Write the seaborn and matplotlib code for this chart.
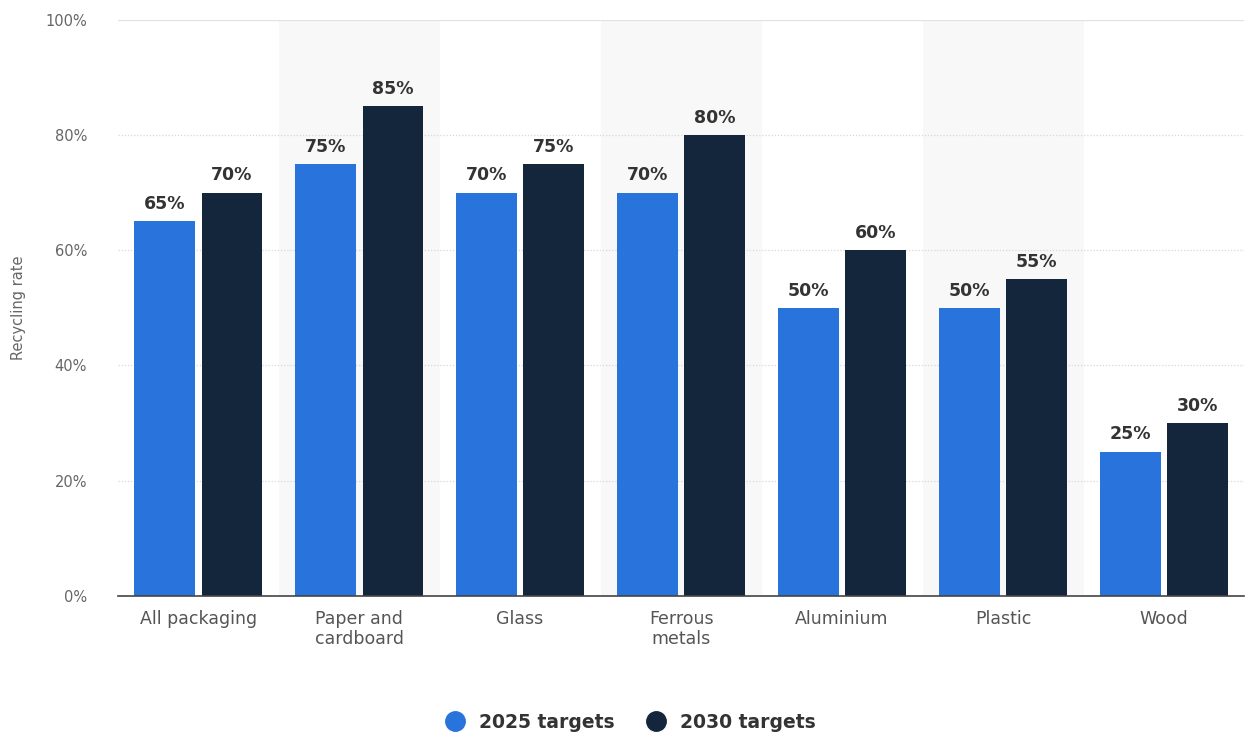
# Import libraries
import matplotlib
matplotlib.use("Agg")
import matplotlib.pyplot as plt
import seaborn as sns
import pandas as pd
from matplotlib.lines import Line2D

# Data
categories = ["All packaging", "Paper and\ncardboard", "Glass", "Ferrous\nmetals",
              "Aluminium", "Plastic", "Wood"]
targets_2025 = [65, 75, 70, 70, 50, 50, 25]
targets_2030 = [70, 85, 75, 80, 60, 55, 30]
series_names = ["2025 targets", "2030 targets"]
colors = ["#2874dc", "#13263c"]

df = pd.DataFrame({
    "category": categories * 2,
    "value": targets_2025 + targets_2030,
    "series": [series_names[0]] * len(categories) + [series_names[1]] * len(categories),
})

sns.set_style("white")
plt.rcParams["font.family"] = ["DejaVu Sans"]

fig = plt.figure(figsize=(12.52, 7.4), dpi=100)
ax = fig.add_axes([0.094, 0.195, 0.9, 0.778])

# Alternating shaded bands
for i in range(1, len(categories), 2):
    ax.axvspan(i - 0.5, i + 0.5, color="#f8f8f8", zorder=0, lw=0)

sns.barplot(data=df, x="category", y="value", hue="series", palette=colors,
            width=0.84, gap=0.1, saturation=1, ax=ax, zorder=2, legend=False,
            linewidth=0)

for container in ax.containers:
    ax.bar_label(container, fmt="%g%%", padding=6, fontsize=12.5,
                 color="#333333", fontweight="semibold")

ax.set_xlim(-0.5, len(categories) - 0.5)
ax.set_ylim(0, 100)
ax.set_yticks([0, 20, 40, 60, 80, 100])
ax.set_yticklabels([f"{v}%" for v in [0, 20, 40, 60, 80, 100]])
ax.tick_params(axis="y", labelsize=10.5, labelcolor="#666666", length=0, pad=22)
ax.tick_params(axis="x", labelsize=12.5, labelcolor="#555555", length=0, pad=10)
ax.set_xlabel("")
ax.set_ylabel("Recycling rate", fontsize=10.5, color="#666666")
ax.yaxis.set_label_coords(-0.081, 0.5)

# Grid lines
for v in [20, 40, 60, 80]:
    ax.axhline(v, color="#d8d8d8", lw=0.9, ls=(0, (1, 1.5)), zorder=1)
ax.axhline(100, color="#e2e2e2", lw=0.9, zorder=1)

for s in ["top", "right", "left"]:
    ax.spines[s].set_visible(False)
ax.spines["bottom"].set_color("#444444")
ax.spines["bottom"].set_linewidth(1.2)
ax.spines["bottom"].set_zorder(3)

handles = [Line2D([0], [0], marker="o", ls="", markersize=14, markerfacecolor=c,
                  markeredgecolor=c) for c in colors]
fig.legend(handles, series_names, loc="center", bbox_to_anchor=(0.5, 0.024),
           ncol=2, frameon=False, handletextpad=0.3, columnspacing=1.2,
           labelcolor="#333333", prop={"weight": "semibold", "size": 13.5})

fig.savefig("out.png", dpi=100)
